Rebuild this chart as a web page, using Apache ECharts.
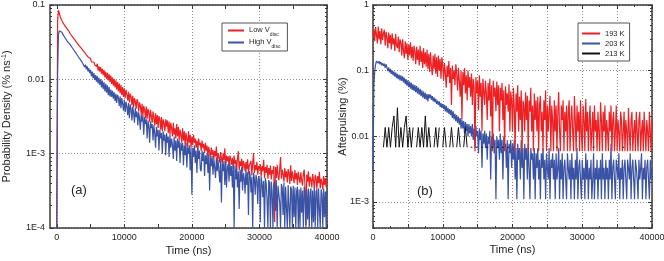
<!DOCTYPE html>
<html><head><meta charset="utf-8">
<script src="https://cdn.jsdelivr.net/npm/echarts@6/dist/echarts.min.js"></script>
<style>html,body{margin:0;padding:0;background:#fff}#c{width:664px;height:261px}</style>
</head><body><div id="c"></div>
<script>
// sampling intervals (ns): value i of a series is at time i*step
const STEP_FINE_NS = 125;   // red / blue traces
const STEP_213K_NS = 250;   // 213 K trace

// (a) probability density (% ns^-1), one row = 2000 ns
const A_LOW_VDISC = [
0.0001,0.06,0.085,0.078,0.070,0.066,0.062,0.059,0.056,0.054,0.052,0.050,0.048,0.046,0.045,0.043,
0.041,0.040,0.038,0.037,0.036,0.0345,0.033,0.032,0.031,0.030,0.029,0.028,0.0272,0.0262,0.0256,0.0246,
0.0240,0.0230,0.0226,0.0214,0.0210,0.0200,0.0198,0.0188,0.0190,0.0172,0.0181,0.0163,0.0171,0.0158,0.0162,0.0148,
0.0162,0.0131,0.0150,0.0127,0.0146,0.0119,0.0138,0.0114,0.0133,0.0106,0.0127,0.0101,0.0122,0.0097,0.0117,0.0092,
0.0112,0.0087,0.0106,0.0082,0.0101,0.0078,0.0097,0.0073,0.0092,0.0069,0.0088,0.0065,0.0084,0.0061,0.0079,0.0058,
0.0076,0.0056,0.0072,0.0063,0.0052,0.0068,0.0049,0.0064,0.0058,0.0045,0.0060,0.0042,0.0056,0.0051,0.0040,0.0054,
0.0050,0.0037,0.0049,0.0044,0.0034,0.0047,0.0032,0.0044,0.0039,0.0030,0.0043,0.0029,0.0040,0.0036,0.0027,0.0039,
0.0037,0.0026,0.0037,0.0031,0.0024,0.0035,0.0025,0.0033,0.0022,0.0032,0.0029,0.0021,0.0031,0.0020,0.0029,0.0026,
0.0020,0.0029,0.0023,0.0028,0.0019,0.0027,0.0018,0.0026,0.0022,0.0017,0.0026,0.0018,0.0022,0.0016,0.0025,0.0017,
0.0023,0.0015,0.0021,0.0018,0.0014,0.0022,0.0015,0.0020,0.0013,0.0019,0.0016,0.0012,0.0020,0.0014,0.0018,0.0012,
0.0017,0.0013,0.0018,0.0014,0.0016,0.0012,0.0015,0.0011,0.0016,0.0013,0.0014,0.0011,0.0015,0.0012,0.00135,0.00102,
0.0014,0.0011,0.00128,0.00092,0.00124,0.00105,0.00088,0.00121,0.00096,0.00112,0.00084,0.00108,0.00092,0.00125,0.00080,0.00102,
0.00098,0.00076,0.00105,0.00088,0.00074,0.00101,0.00082,0.00118,0.00070,0.00094,0.00079,0.00092,0.00066,0.00094,0.00085,0.00071,
0.00088,0.00063,0.00094,0.00072,0.00082,0.00059,0.00086,0.00108,0.00060,0.00079,0.00068,0.00085,0.00057,0.00080,0.00072,0.00058,
0.00077,0.00062,0.00084,0.00053,0.00070,0.00066,0.00080,0.00051,0.00075,0.00102,0.00055,0.00070,0.00060,0.00078,0.00052,0.00068,
0.00061,0.00072,0.00049,0.00068,0.00058,0.00083,0.00047,0.00066,0.00055,0.00071,0.00046,0.00064,0.00052,0.00069,0.00045,0.00060,
0.00054,0.00068,0.00012,0.00066,0.00047,0.00071,0.00050,0.00044,0.00062,0.00090,0.00046,0.00061,0.00053,0.00042,0.00064,0.00048,
0.00058,0.00041,0.00062,0.00055,0.00039,0.00070,0.00043,0.00058,0.00048,0.00040,0.00060,0.00045,0.00055,0.00038,0.00057,0.00047,
0.00040,0.00056,0.00044,0.00037,0.00054,0.00061,0.00036,0.00011,0.00052,0.00042,0.00058,0.00036,0.00049,0.00045,0.00035,0.00053,
0.00044,0.00034,0.00052,0.00047,0.00033,0.00050,0.00040,0.00057,0.00034,0.00046,0.00041,0.00033,0.00050,0.00038,0.00047,0.00035,
0.00045];
const A_HIGH_VDISC = [
0.0001,0.012,0.040,0.045,0.046,0.045,0.043,0.041,0.039,0.0375,0.036,0.0345,0.033,0.032,0.031,0.030,
0.029,0.028,0.027,0.026,0.025,0.024,0.0232,0.0222,0.0214,0.0206,0.0198,0.0190,0.0184,0.0178,0.0170,0.0165,
0.0165,0.0146,0.0158,0.0136,0.0150,0.0128,0.0141,0.0121,0.0134,0.0110,0.0127,0.0104,0.0121,0.0098,0.0114,0.0093,
0.0111,0.0088,0.0105,0.0084,0.0100,0.0078,0.0096,0.0074,0.0091,0.0069,0.0087,0.0066,0.0083,0.0061,0.0079,0.0059,
0.0073,0.0058,0.0070,0.0055,0.0067,0.0051,0.0064,0.0048,0.0062,0.0056,0.0044,0.0059,0.0041,0.0056,0.0047,0.0038,
0.0053,0.0036,0.0050,0.0043,0.0033,0.0048,0.0030,0.0046,0.0040,0.0028,0.0043,0.0035,0.0026,0.0041,0.0031,0.0037,
0.0024,0.0036,0.0030,0.0021,0.0034,0.0027,0.0032,0.0018,0.0031,0.0025,0.0029,0.0016,0.0028,0.0023,0.0014,0.0027,
0.0022,0.0025,0.0015,0.0024,0.0019,0.0012,0.0023,0.0017,0.0021,0.0011,0.0021,0.0016,0.0019,0.0010,0.0020,0.0015,
0.0018,0.00095,0.0019,0.0014,0.0017,0.0009,0.0018,0.0012,0.0016,0.0013,0.00085,0.0017,0.0011,0.0015,0.0008,0.0016,
0.0012,0.0015,0.00075,0.0014,0.0011,0.0014,0.0007,0.0013,0.00095,0.0014,0.00065,0.0012,0.0010,0.0013,0.0006,0.0012,
0.00028,0.0012,0.0009,0.0013,0.00075,0.0011,0.00055,0.0012,0.00085,0.0011,0.00062,0.00058,0.0011,0.0008,0.00105,0.0005,
0.00095,0.00072,0.001,0.00055,0.00098,0.00032,0.00089,0.00068,0.00094,0.00052,0.00085,0.00065,0.00047,0.00088,0.00058,0.00082,
0.00078,0.00041,0.00085,0.00022,0.00074,0.00058,0.00081,0.00038,0.00079,0.00035,0.00066,0.00072,0.00042,0.00076,0.0005,0.00068,
0.00035,0.00072,0.0001,0.0007,0.00045,0.00064,0.00035,0.00058,0.00018,0.00061,0.00042,0.00066,0.00032,0.00055,0.00047,0.00029,
0.00062,0.00038,0.00056,0.00015,0.00058,0.00052,0.0003,0.00049,0.0001,0.00055,0.00047,0.00028,0.00052,0.00044,0.00021,0.0005,
0.00045,0.00012,0.00049,0.00041,0.00026,0.00043,0.0001,0.00047,0.00039,0.00024,0.0001,0.00044,0.0004,0.0001,0.00042,0.00031,
0.0001,0.00041,0.00038,0.00017,0.00044,0.0001,0.00037,0.00036,0.00022,0.0001,0.00039,0.00035,0.00015,0.00041,0.0001,0.00036,
0.00034,0.0001,0.00038,0.00019,0.0001,0.00036,0.00033,0.0001,0.00037,0.00014,0.00035,0.0001,0.00031,0.00036,0.0001,0.00033,
0.0001,0.00035,0.00016,0.00032,0.0001,0.00036,0.00028,0.0001,0.00033,0.00013,0.00034,0.0001,0.0003,0.00034,0.0001,0.00032,
0.00012,0.00035,0.0001,0.00031,0.00033,0.0001,0.00034,0.00018,0.0001,0.00033,0.00029,0.0001,0.00034,0.00014,0.00031,0.0001,
0.00032];

// (b) afterpulsing (%), one row = 2000 ns
const B_193K = [
0.33,0.43,0.28,0.46,0.35,0.26,0.47,0.30,0.40,0.25,0.44,0.29,0.37,0.42,0.24,0.39,
0.32,0.22,0.38,0.26,0.35,0.21,0.37,0.25,0.31,0.20,0.36,0.24,0.22,0.33,0.19,0.30,
0.27,0.17,0.30,0.20,0.155,0.28,0.18,0.26,0.145,0.25,0.17,0.27,0.155,0.23,0.14,0.24,
0.20,0.125,0.23,0.145,0.21,0.12,0.24,0.135,0.20,0.11,0.22,0.125,0.19,0.115,0.21,0.105,
0.18,0.095,0.19,0.115,0.085,0.17,0.105,0.18,0.09,0.16,0.08,0.17,0.10,0.15,0.075,0.16,
0.12,0.07,0.13,0.09,0.055,0.12,0.08,0.14,0.065,0.11,0.03,0.12,0.075,0.10,0.06,0.125,
0.09,0.05,0.11,0.07,0.04,0.10,0.018,0.095,0.06,0.11,0.045,0.085,0.035,0.10,0.055,0.08,
0.04,0.09,0.03,0.075,0.055,0.0059,0.08,0.045,0.07,0.025,0.085,0.04,0.065,0.012,0.075,0.05,
0.03,0.07,0.045,0.0177,0.065,0.035,0.075,0.02,0.06,0.0059,0.07,0.04,0.055,0.024,0.068,0.03,
0.06,0.0118,0.055,0.035,0.065,0.0177,0.05,0.0059,0.058,0.03,0.045,0.0236,0.062,0.0118,0.048,0.035,
0.0118,0.055,0.0295,0.0059,0.045,0.0236,0.06,0.0118,0.04,0.0177,0.05,0.0059,0.035,0.0295,0.0118,0.047,
0.0177,0.0413,0.0059,0.035,0.0236,0.055,0.0118,0.0295,0.0059,0.045,0.0177,0.0354,0.0118,0.04,0.0059,0.0295,
0.0413,0.0118,0.0236,0.0059,0.0354,0.0177,0.05,0.0059,0.0295,0.0118,0.0236,0.0413,0.0059,0.0295,0.0177,0.0059,
0.0354,0.0118,0.0295,0.0059,0.0236,0.047,0.0118,0.0059,0.0295,0.0177,0.0354,0.0059,0.0236,0.0118,0.0295,0.0059,
0.0236,0.0354,0.0059,0.0177,0.0295,0.0118,0.0059,0.041,0.0177,0.0059,0.0295,0.0118,0.0236,0.0059,0.0354,0.0118,
0.0059,0.0295,0.0177,0.0059,0.037,0.0118,0.0236,0.0059,0.0177,0.0295,0.0059,0.0118,0.0236,0.0059,0.0295,0.0118,
0.0177,0.0059,0.0236,0.0118,0.0059,0.033,0.0177,0.0059,0.0236,0.0118,0.0295,0.0059,0.0177,0.0118,0.0059,0.0236,
0.0118,0.0295,0.0059,0.0177,0.0236,0.0059,0.0118,0.0295,0.0059,0.0177,0.0118,0.0059,0.0236,0.0177,0.0059,0.0118,
0.0236,0.0059,0.0177,0.0118,0.0059,0.027,0.0118,0.0059,0.0177,0.0236,0.0059,0.0118,0.0177,0.0059,0.0236,0.0118,
0.0059,0.0177,0.0236,0.0059,0.0118,0.0177,0.0059,0.0236,0.0118,0.0059,0.0177,0.0118,0.0059,0.0236,0.0118,0.0059,
0.0177];
const B_203K = [
0.003,0.06,0.10,0.125,0.14,0.145,0.13,0.14,0.125,0.135,0.12,0.13,0.118,0.128,0.11,0.125,
0.118,0.098,0.112,0.094,0.106,0.089,0.101,0.085,0.097,0.081,0.093,0.077,0.089,0.074,0.086,0.071,
0.085,0.07,0.082,0.066,0.078,0.062,0.074,0.059,0.071,0.056,0.068,0.053,0.065,0.051,0.062,0.049,
0.06,0.047,0.058,0.045,0.055,0.043,0.053,0.041,0.05,0.039,0.048,0.037,0.046,0.036,0.044,0.034,
0.044,0.038,0.043,0.036,0.041,0.034,0.039,0.033,0.037,0.031,0.035,0.03,0.034,0.028,0.032,0.027,
0.031,0.026,0.03,0.024,0.029,0.023,0.027,0.022,0.026,0.021,0.025,0.019,0.024,0.018,0.022,0.017,
0.021,0.016,0.02,0.015,0.019,0.013,0.018,0.0132,0.017,0.011,0.0165,0.0121,0.0154,0.0099,0.0154,0.011,
0.0143,0.0099,0.0154,0.0088,0.0132,0.0066,0.0143,0.0099,0.0121,0.0055,0.0132,0.0088,0.0121,0.0033,0.011,0.0077,
0.0121,0.0066,0.011,0.0044,0.0099,0.0077,0.0121,0.0022,0.0099,0.0066,0.011,0.0055,0.0088,0.0011,0.0099,0.0066,
0.0088,0.0044,0.011,0.0055,0.0088,0.0022,0.0099,0.0066,0.0077,0.0033,0.0088,0.0011,0.0077,0.0055,0.0088,0.0033,
0.0077,0.0044,0.0088,0.0022,0.0066,0.0011,0.0077,0.0044,0.0066,0.0022,0.0088,0.0033,0.0066,0.0011,0.0077,0.0044,
0.0066,0.0022,0.0077,0.0033,0.0011,0.0066,0.0044,0.0055,0.0022,0.0066,0.0011,0.0055,0.0033,0.0066,0.0022,0.0044,
0.0011,0.0055,0.0033,0.0066,0.0022,0.0044,0.0011,0.0055,0.0033,0.0022,0.0066,0.0011,0.0044,0.0033,0.0055,0.0022,
0.0044,0.0011,0.0055,0.0022,0.0033,0.0066,0.0011,0.0044,0.0022,0.0055,0.0011,0.0033,0.0044,0.0022,0.0011,0.0055,
0.0033,0.0022,0.0044,0.0011,0.0055,0.0022,0.0033,0.0011,0.0044,0.0022,0.0066,0.0011,0.0033,0.0044,0.0022,0.0011,
0.0044,0.0022,0.0033,0.0011,0.0055,0.0022,0.0044,0.0011,0.0033,0.0022,0.0044,0.0011,0.0022,0.0055,0.0011,0.0033,
0.0022,0.0044,0.0011,0.0033,0.0022,0.0044,0.0011,0.0055,0.0022,0.0033,0.0011,0.0044,0.0022,0.0033,0.0011,0.0044,
0.0022,0.0077,0.0011,0.0033,0.0044,0.0022,0.0011,0.0044,0.0033,0.0022,0.0055,0.0011,0.0033,0.0022,0.0044,0.0011,
0.0033,0.0044,0.0022,0.0011,0.0044,0.0033,0.0022,0.0055,0.0011,0.0033,0.0044,0.0022,0.0011,0.0044,0.0033,0.0022,
0.0011,0.0044,0.0022,0.0033,0.0055,0.0011,0.0033,0.0022,0.0044,0.0011,0.0033,0.0044,0.0022,0.0011,0.0044,0.0022,
0.0033];
const B_213K = [
null,null,null,null,null,null,0.0068,0.0136,0.0068,0.0136,
0.0068,0.0136,0.0204,0.0068,0.0272,0.0068,0.0136,0.0068,0.0136,0.0204,
0.0068,0.0136,0.0068,0.0136,null,0.0068,0.0136,0.0068,0.0136,0.0068,
0.0204,0.0068,0.0136,0.0068,null,0.0068,0.0136,0.0068,0.0136,null,
0.0068,0.0136,0.0068,null,0.0068,0.0136,0.0068,null,0.0068,0.0136,
0.0068,null,0.0068,0.0136,0.0068,null,0.0068,0.0068,null,0.0068,
0.0068,null,0.0068,0.0068,null,0.0068,0.0068,null,0.0068,0.0068,
null,0.0068,0.0068,null,0.0068,0.0068,null,0.0068,0.0068,null,
0.0068,null,null,null,null,null,null,null,null,null,
null,null,null,null,null,null,null,null,null,null,
null,null,null,null,null,0.0068,0.0068,null,null,null,
null,null,null,null,null,null,null,null,null,null,
null,null,null,null,null,null,0.0068,0.0068,null,null,
null,null,null,null,null,null,null,null,null,null,
null,null,null,0.0068,0.0068,null,null,null,null,null,
null,null,null,null,null,null,null,null,null,null,
null];

// axis ticks / labels
const A_X_LABELS = [0, 10000, 20000, 30000, 40000];
const A_X_MINOR = [5000, 15000, 25000, 35000];
const A_X_ALL = [0,5000,10000,15000,20000,25000,30000,35000,40000];

const FONT = "'Liberation Sans', Arial, Helvetica, sans-serif";
const AXIS_COLOR = '#3a3a3a';
const GRID_COLOR = '#8c8c8c';
const TXT = '#1e1e1e';
const RED = '#ED2024', BLUE = '#3B53A4', BLACK = '#111111';

function pairs(arr, step){ return arr.map((v,i)=>[i*step, v==null ? '-' : v]); }
function fmtLog(v){
  const l = Math.log10(v), e = Math.round(l);
  if (Math.abs(l-e) > 1e-6) return '';
  if (e >= 0) return '1';
  if (e >= -2) return (Math.pow(10,e)).toFixed(-e);
  return '1E' + e;
}
function minorLog(lo, hiExp){
  const out=[];
  for (let n=-5;n<hiExp;n++) for (let k=2;k<=9;k++){ const v=k*Math.pow(10,n); if (v>=lo*0.999 && v<Math.pow(10,hiExp)) out.push(Math.log10(v)); }
  return out;
}
const lineAx = {show:true, onZero:false, lineStyle:{color:AXIS_COLOR, width:1.5}};
const noLine = {show:false, onZero:false};
const split = {show:true, lineStyle:{color:GRID_COLOR, width:1, type:[1,2]}};
const lbl = {fontSize:9, color:TXT, fontFamily:FONT};
const tick = (len, extra) => Object.assign({show:true, inside:true, length:len, lineStyle:{color:AXIS_COLOR, width:1}}, extra||{});

const B_MIN = 0.0004;
const minorA = minorLog(1e-4, -1);
const minorB = minorLog(B_MIN, 0);

const xAxis = [
  {gridIndex:0, type:'value', position:'bottom', min:-1000, max:40000,
   axisLine:lineAx, axisTick:tick(4,{customValues:A_X_LABELS}),
   axisLabel:Object.assign({customValues:A_X_LABELS, margin:5, formatter:v => String(v)}, lbl),
   splitLine:split, name:'Time (ns)', nameLocation:'middle', nameGap:17, nameMoveOverlap:false,
   nameTextStyle:{fontSize:11, color:TXT, fontFamily:FONT}},
  {gridIndex:0, type:'value', position:'bottom', min:-1000, max:40000,
   axisLine:noLine, axisTick:tick(4,{customValues:A_X_MINOR}), axisLabel:{show:false}, splitLine:{show:false}},
  {gridIndex:0, type:'value', position:'top', min:-1000, max:40000,
   axisLine:lineAx, axisTick:tick(4,{customValues:A_X_ALL}), axisLabel:{show:false}, splitLine:{show:false}},
  {gridIndex:1, type:'value', position:'bottom', min:0, max:40000, interval:5000,
   axisLine:lineAx, axisTick:tick(4), minorTick:{show:true, splitNumber:2, length:2, lineStyle:{color:AXIS_COLOR, width:1}},
   axisLabel:Object.assign({margin:5, formatter:v => (v % 10000 === 0 ? String(v) : '')}, lbl),
   splitLine:split, name:'Time (ns)', nameLocation:'middle', nameGap:16, nameMoveOverlap:false,
   nameTextStyle:{fontSize:11, color:TXT, fontFamily:FONT}},
  {gridIndex:1, type:'value', position:'top', min:0, max:40000, interval:5000,
   axisLine:lineAx, axisTick:tick(4), minorTick:{show:true, splitNumber:2, length:2, lineStyle:{color:AXIS_COLOR, width:1}},
   axisLabel:{show:false}, splitLine:{show:false}}
];

const yAxis = [
  {gridIndex:0, type:'log', logBase:10, min:1e-4, max:0.1, position:'left',
   axisLine:lineAx, axisTick:tick(4), axisLabel:Object.assign({margin:5, formatter:fmtLog}, lbl),
   splitLine:split, name:'Probability Density (% ns{sup|-1})', nameLocation:'middle', nameGap:38, nameMoveOverlap:false,
   nameTextStyle:{fontSize:11, color:TXT, fontFamily:FONT, rich:{sup:{fontSize:7, verticalAlign:'top', lineHeight:8, color:TXT, fontFamily:FONT}}}},
  {gridIndex:0, type:'log', logBase:10, min:1e-4, max:0.1, position:'right',
   axisLine:lineAx, axisTick:tick(4), axisLabel:{show:false}, splitLine:{show:false}},
  {gridIndex:0, type:'value', min:-4, max:-1, position:'left',
   axisLine:noLine, axisTick:tick(2,{customValues:minorA}), axisLabel:{show:false}, splitLine:{show:false}},
  {gridIndex:0, type:'value', min:-4, max:-1, position:'right',
   axisLine:noLine, axisTick:tick(2,{customValues:minorA}), axisLabel:{show:false}, splitLine:{show:false}},
  {gridIndex:1, type:'log', logBase:10, min:B_MIN, max:1, position:'left',
   axisLine:lineAx, axisTick:tick(4), axisLabel:Object.assign({margin:4, formatter:fmtLog, showMinLabel:false}, lbl),
   splitLine:split, name:'Afterpulsing (%)', nameLocation:'middle', nameGap:25, nameMoveOverlap:false,
   nameTextStyle:{fontSize:11, color:TXT, fontFamily:FONT}},
  {gridIndex:1, type:'log', logBase:10, min:B_MIN, max:1, position:'right',
   axisLine:lineAx, axisTick:tick(4), axisLabel:{show:false}, splitLine:{show:false}},
  {gridIndex:1, type:'value', min:Math.log10(B_MIN), max:0, position:'left',
   axisLine:noLine, axisTick:tick(2,{customValues:minorB}), axisLabel:{show:false}, splitLine:{show:false}},
  {gridIndex:1, type:'value', min:Math.log10(B_MIN), max:0, position:'right',
   axisLine:noLine, axisTick:tick(2,{customValues:minorB}), axisLabel:{show:false}, splitLine:{show:false}}
];

function ser(name, color, xi, yi, arr, step, w){
  return {name, type:'line', xAxisIndex:xi, yAxisIndex:yi, data:pairs(arr, step), symbol:'none', showSymbol:false,
    lineStyle:{color, width:w, join:'bevel'}, itemStyle:{color}, silent:true, animation:false, connectNulls:false};
}

const chart = echarts.init(document.getElementById('c'), null, {renderer:'canvas'});
chart.setOption({
  animation:false,
  backgroundColor:'#fff',
  textStyle:{fontFamily:FONT},
  grid:[
    {left:50, top:5, width:277, height:223, outerBoundsMode:'none', containLabel:false},
    {left:373, top:5, width:279, height:223, outerBoundsMode:'none', containLabel:false}
  ],
  xAxis, yAxis,
  legend:[
    {data:['Low Vdisc','High Vdisc'], orient:'vertical', left:222, top:23, itemWidth:16, itemHeight:2, itemGap:1,
     icon:'rect', padding:[3,7,2,6], backgroundColor:'#fff', borderColor:'#555', borderWidth:1, borderRadius:0, selectedMode:false,
     formatter:n => (n==='Low Vdisc' ? '{m|Low V}{s|disc}' : '{m|High V}{s|disc}'),
     textStyle:{fontFamily:FONT, color:TXT, fontSize:7.5,
       rich:{m:{fontSize:7.5, lineHeight:9, verticalAlign:'top', color:TXT, fontFamily:FONT},
             s:{fontSize:5, lineHeight:5, verticalAlign:'top', padding:[6,0,0,0], color:TXT, fontFamily:FONT}}}},
    {data:['193 K','203 K','213 K'], orient:'vertical', left:578, top:23, itemWidth:18, itemHeight:2, itemGap:1,
     icon:'rect', padding:[6,5,3,4], backgroundColor:'#fff', borderColor:'#555', borderWidth:1, borderRadius:0, selectedMode:false,
     textStyle:{fontFamily:FONT, color:TXT, fontSize:7.5, lineHeight:9}}
  ],
  graphic:[
    {type:'text', left:71, top:184, style:{text:'(a)', font:'13px ' + FONT, fill:TXT}},
    {type:'text', left:417, top:185, style:{text:'(b)', font:'13px ' + FONT, fill:TXT}}
  ],
  series:[
    ser('Low Vdisc', RED, 0, 0, A_LOW_VDISC, STEP_FINE_NS, 1.2),
    ser('High Vdisc', BLUE, 0, 0, A_HIGH_VDISC, STEP_FINE_NS, 1.2),
    ser('203 K', BLUE, 3, 4, B_203K, STEP_FINE_NS, 1.2),
    ser('193 K', RED, 3, 4, B_193K, STEP_FINE_NS, 1.2),
    ser('213 K', BLACK, 3, 4, B_213K, STEP_213K_NS, 1)
  ]
});
</script></body></html>
